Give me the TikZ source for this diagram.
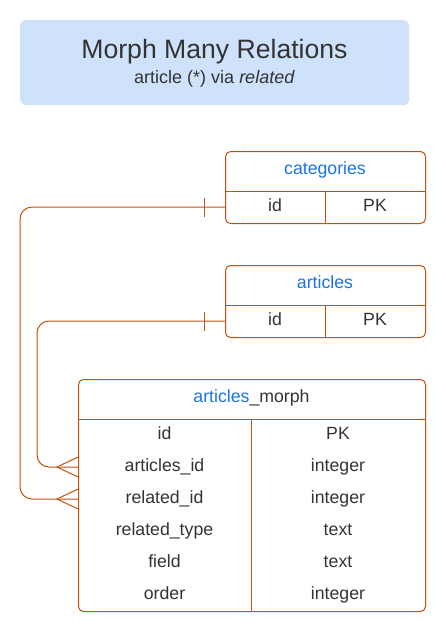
\documentclass[tikz,border=0pt]{standalone}
\usepackage{fontspec}
\setmainfont{Liberation Sans}
\definecolor{relcol}{RGB}{196,82,14}
\definecolor{headcol}{RGB}{26,115,232}
\definecolor{inkcol}{RGB}{51,51,51}
\definecolor{titlecol}{RGB}{207,226,252}
\newcommand{\cellfont}{\fontsize{17.7}{21}\selectfont}
\tikzset{
    tbl/.style={draw=relcol, line width=1pt, rounded corners=5pt, anchor=north west, inner sep=0pt},
    relline/.style={draw=relcol, line width=1pt},
    cell/.style={anchor=base, text=inkcol, font=\cellfont, inner sep=0pt},
    head/.style={cell, text=headcol}
}
\begin{document}
\begin{tikzpicture}[x=1pt, y=-1pt]
        \useasboundingbox (0,0) rectangle (445,632);
        % title
        \node[fill=titlecol, rounded corners=6pt, minimum width=389pt, minimum height=85pt, anchor=north west, inner sep=0pt] (title) at (20,20) {};
        \node[anchor=base, text=inkcol, font=\fontsize{26.6}{30}\selectfont] (title-main) at (214.5,58) {Morph Many Relations};
        \node[anchor=base, text=inkcol, font=\fontsize{18}{21}\selectfont] (title-sub) at (214.5,83) {article (*) via \textit{related}};
        % categories
        \node[tbl, minimum width=200pt, minimum height=72pt] (categories) at (225,151) {};
        \node[head] (categories-name) at (325,174.5) {categories};
        \draw[relline] (225,191) -- (425,191);
        \draw[relline] (325,191) -- (325,223);
        \node[cell] (categories-f1) at (275,211) {id};
        \node[cell] (categories-t1) at (375,211) {PK};
        \coordinate (categories-id) at (225,207);
        % articles
        \node[tbl, minimum width=200pt, minimum height=72pt] (articles) at (225,265) {};
        \node[head] (articles-name) at (325,288.5) {articles};
        \draw[relline] (225,305) -- (425,305);
        \draw[relline] (325,305) -- (325,337);
        \node[cell] (articles-f1) at (275,325) {id};
        \node[cell] (articles-t1) at (375,325) {PK};
        \coordinate (articles-id) at (225,321);
        % articles_morph
        \node[tbl, minimum width=347pt, minimum height=232pt] (morph) at (78,379) {};
        \node[cell] (morph-name) at (251.5,402.5) {\textcolor{headcol}{articles}\_morph};
        \draw[relline] (78,419) -- (425,419);
        \draw[relline] (251,419) -- (251,611);
        \foreach \y/\f/\t [count=\i] in {435/id/PK, 467/articles\_id/integer, 499/related\_id/integer, 531/related\_type/text, 563/field/text, 595/order/integer}
            {
                \node[cell] (morph-f\i) at (164.5,\y+4) {\f};
                \node[cell] (morph-t\i) at (338,\y+4) {\t};
                \coordinate (morph-r\i) at (78,\y);
            }
        % relations
        \coordinate (catbend) at (20,0);
        \coordinate (artbend) at (37,0);
        \draw[relline, rounded corners=12pt] (categories-id) -| (catbend |- morph-r3) -- (morph-r3);
        \draw[relline, rounded corners=12pt] (articles-id) -| (artbend |- morph-r2) -- (morph-r2);
        \draw[relline] ([xshift=-21pt]categories-id) ++(0,-9.5) -- ++(0,19);
        \draw[relline] ([xshift=-21pt]articles-id) ++(0,-9.5) -- ++(0,19);
        \draw[relline] (morph-r3) ++(0,-10) -- ++(-21,10) -- ++(21,10);
        \draw[relline] (morph-r2) ++(0,-10) -- ++(-21,10) -- ++(21,10);
    \end{tikzpicture}
\end{document}
